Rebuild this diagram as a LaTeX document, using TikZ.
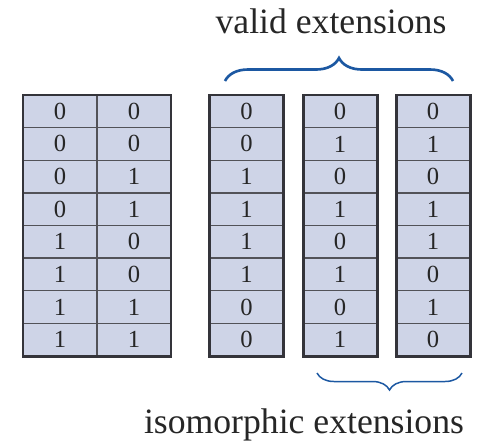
\documentclass[tikz,border=0pt]{standalone}
\usepackage{fontspec}
\setmainfont{Liberation Serif}
\usetikzlibrary{decorations.pathreplacing}
\definecolor{cellfill}{RGB}{206,212,231}
\definecolor{braceblue}{RGB}{28,88,162}
\definecolor{framegray}{RGB}{52,52,58}
\tikzset{
	cell/.style={fill=cellfill,draw=framegray!85,line width=0.75pt},
	outer/.style={draw=framegray,line width=1.7pt},
	bit/.style={font=\fontsize{14}{16}\selectfont,text=black!85},
	caption/.style={font=\fontsize{20.3}{24}\selectfont,text=black!85,anchor=base},
	bigbrace/.style={decorate,decoration={brace,amplitude=0.46cm},draw=braceblue,line width=1.5pt},
	smallbrace/.style={decorate,decoration={brace,amplitude=0.34cm},draw=braceblue,line width=0.85pt}
}
\begin{document}
\begin{tikzpicture}[x=0.02cm,y=-0.02cm]
	\useasboundingbox (0,0) rectangle (489,440);
	% pairs of bits on the left
	\foreach \a/\b [count=\r] in {0/0,0/0,0/1,0/1,1/0,1/0,1/1,1/1} {
		\pgfmathsetmacro{\yt}{95+32.625*(\r-1)}
		\draw[cell] (23,\yt) rectangle (97,\yt+32.625);
		\draw[cell] (97,\yt) rectangle (171,\yt+32.625);
		\node[bit] (pa\r) at (60,\yt+16.3) {\a};
		\node[bit] (pb\r) at (134,\yt+16.3) {\b};
	}
	\draw[outer] (23,95) rectangle (171,356);
	% the three extension columns
	\foreach \x/\bits [count=\t] in {209.5/{0,0,1,1,1,1,0,0},303/{0,1,0,1,0,1,0,1},396/{0,1,0,1,1,0,1,0}} {
		\foreach \b [count=\r] in \bits {
			\pgfmathsetmacro{\yt}{95+32.625*(\r-1)}
			\draw[cell] (\x,\yt) rectangle (\x+74,\yt+32.625);
			\node[bit] (e\t-\r) at (\x+37,\yt+16.3) {\b};
		}
		\draw[outer] (\x,95) rectangle (\x+74,356);
	}
	% braces and captions
	\coordinate (VL) at (225,81);
	\coordinate (VR) at (453,81);
	\coordinate (IL) at (317,373);
	\coordinate (IR) at (462,373);
	\draw[bigbrace] (VL)--(VR);
	\draw[smallbrace] (IR)--(IL);
	\node[caption] (valid) at (331,33) {valid extensions};
	\node[caption] (iso) at (304,433) {isomorphic extensions};
\end{tikzpicture}
\end{document}
